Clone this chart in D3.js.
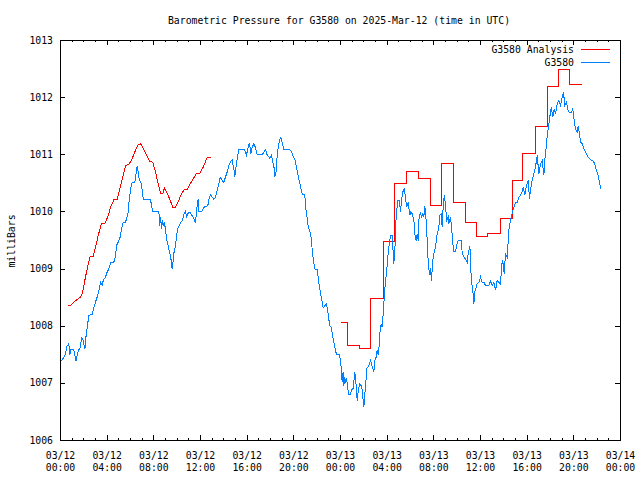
<!DOCTYPE html>
<html><head><meta charset="utf-8">
<script src="https://cdn.jsdelivr.net/npm/d3@7"></script>
<style>
body{margin:0;background:#fff}
svg{display:block}
text{font-family:"DejaVu Sans Mono","Liberation Mono",monospace;font-size:9.8px;fill:#000}
</style>
</head><body><svg id="c" width="640" height="480"></svg>
<script>
const titleText = "Barometric Pressure for G3580 on 2025-Mar-12 (time in UTC)";
const yLabelText = "milliBars";
const seriesNames = ["G3580 Analysis", "G3580"];
const startTime = "2025-03-12T00:00:00Z";
const endTime = "2025-03-14T00:00:00Z";
const yDomain = [1006, 1013];
const yTickValues = [1006, 1007, 1008, 1009, 1010, 1011, 1012, 1013];

// Observed pressure (hours since 2025-03-12 00:00 UTC, mb)
const obsHours = [0.09,0.29,0.43,0.57,0.71,0.80,0.86,1.06,1.14,1.23,1.34,1.43,1.57,1.71,1.80,1.91,2.00,2.09,2.20,2.31,2.43,2.71,2.86,3.00,3.14,3.29,3.43,3.57,3.66,3.86,4.00,4.14,4.29,4.57,4.71,4.80,4.94,5.09,5.23,5.37,5.57,5.71,5.80,5.91,6.06,6.14,6.37,6.46,6.57,6.66,6.71,6.86,6.94,7.06,7.14,7.71,7.86,7.94,8.43,8.51,8.57,8.66,8.71,8.80,8.89,9.00,9.09,9.23,9.34,9.46,9.57,9.66,9.74,9.86,9.94,10.09,10.23,10.43,10.57,10.71,10.80,10.91,11.09,11.29,11.43,11.57,11.71,11.80,11.86,12.09,12.29,12.49,12.63,12.71,12.86,13.00,13.14,13.29,13.43,13.57,13.69,13.86,14.00,14.14,14.29,14.43,14.57,14.71,14.86,14.94,15.09,15.20,15.29,15.71,15.86,15.94,16.09,16.20,16.31,16.43,16.57,16.71,16.86,17.29,17.43,17.57,17.71,17.86,17.94,18.09,18.20,18.31,18.37,18.49,18.57,18.66,18.77,18.89,19.00,19.14,19.63,19.80,19.91,20.09,20.20,20.31,20.43,20.54,20.66,20.77,20.94,21.00,21.11,21.20,21.29,21.43,21.51,21.60,21.71,21.80,22.00,22.14,22.29,22.43,22.51,22.66,22.77,22.86,23.00,23.06,23.20,23.29,23.43,23.51,23.66,23.91,
24.00,24.09,24.14,24.23,24.29,24.37,24.43,24.51,24.63,24.71,24.86,24.94,25.06,25.14,25.23,25.34,25.43,25.51,25.63,25.77,25.86,26.00,26.09,26.14,26.23,26.43,26.57,26.71,26.86,26.94,27.06,27.14,27.23,27.29,27.37,27.49,27.57,27.66,27.77,27.86,27.94,28.06,28.14,28.29,28.43,28.49,28.57,28.66,28.77,28.91,29.06,29.14,29.23,29.34,29.46,29.57,29.66,29.80,29.94,30.03,30.14,30.29,30.37,30.49,30.57,30.66,30.71,30.86,30.94,31.06,31.14,31.23,31.34,31.43,31.51,31.63,31.71,31.80,31.91,32.00,32.14,32.29,32.43,32.51,32.66,32.71,32.80,32.89,33.00,33.09,33.23,33.29,33.43,33.51,33.63,33.71,33.86,33.94,34.09,34.37,34.43,34.57,34.71,34.86,34.94,35.09,35.17,35.29,35.37,35.43,35.51,35.57,35.71,35.86,36.00,36.14,36.29,36.43,36.71,36.86,37.00,37.14,37.29,37.43,37.57,37.71,37.86,37.94,38.03,38.14,38.29,38.43,38.57,38.71,38.86,39.00,39.14,39.29,39.43,39.57,39.66,39.80,39.94,40.09,40.20,40.29,40.43,40.57,40.71,40.86,41.00,41.14,41.29,41.43,41.51,41.63,41.71,41.86,41.94,42.06,42.20,42.31,42.43,42.57,42.71,42.86,43.00,43.11,43.23,43.37,43.51,43.66,43.80,43.91,44.00,44.09,44.20,44.29,44.37,44.49,44.57,44.71,44.86,45.00,45.23,45.43,45.63,45.80,45.94,46.09,46.20,46.31];
const obsValues = [1007.39,1007.46,1007.52,1007.66,1007.69,1007.50,1007.59,1007.60,1007.59,1007.49,1007.39,1007.50,1007.59,1007.63,1007.80,1007.78,1007.69,1007.60,1007.85,1008.01,1008.19,1008.21,1008.33,1008.42,1008.51,1008.63,1008.77,1008.71,1008.80,1008.86,1008.95,1009.00,1009.11,1009.12,1009.21,1009.41,1009.47,1009.54,1009.70,1009.81,1009.82,1009.91,1010.00,1010.26,1010.45,1010.51,1010.52,1010.64,1010.80,1010.70,1010.61,1010.52,1010.49,1010.26,1010.22,1010.22,1010.05,1010.00,1010.00,1009.76,1009.91,1009.70,1009.85,1009.76,1009.82,1009.70,1009.53,1009.41,1009.30,1009.19,1009.00,1009.15,1009.31,1009.40,1009.59,1009.73,1009.79,1009.85,1009.95,1010.01,1009.91,1009.97,1010.00,1009.93,1009.88,1009.81,1010.11,1010.22,1010.00,1010.00,1010.08,1010.10,1010.11,1010.22,1010.30,1010.26,1010.22,1010.26,1010.38,1010.49,1010.61,1010.55,1010.52,1010.61,1010.70,1010.81,1010.88,1010.91,1010.75,1010.62,1010.87,1010.99,1011.10,1011.10,1011.05,1011.00,1011.13,1011.21,1011.02,1011.13,1011.19,1011.13,1011.00,1011.00,1011.05,1011.09,1011.00,1010.96,1010.93,1010.99,1010.87,1010.77,1010.61,1010.72,1010.99,1011.13,1011.25,1011.31,1011.22,1011.10,1011.10,1011.05,1010.99,1010.92,1010.81,1010.70,1010.58,1010.47,1010.35,1010.30,1010.30,1010.11,1009.94,1009.79,1009.70,1009.63,1009.50,1009.27,1009.12,1009.00,1008.99,1008.77,1008.57,1008.42,1008.32,1008.36,1008.39,1008.32,1008.13,1008.01,1007.98,1007.87,1007.73,1007.63,1007.50,1007.50,
1007.40,1007.20,1007.02,1007.20,1006.96,1007.11,1007.00,1007.10,1006.90,1006.81,1006.81,1006.90,1006.89,1007.02,1007.20,1006.96,1006.70,1006.85,1006.99,1006.96,1006.88,1006.58,1006.85,1006.86,1007.25,1007.31,1007.40,1007.30,1007.20,1007.40,1007.46,1007.58,1007.50,1007.60,1007.87,1008.04,1007.98,1008.22,1008.57,1008.80,1008.92,1009.21,1009.38,1009.59,1009.59,1009.38,1009.09,1009.33,1009.91,1010.20,1010.20,1010.00,1010.20,1010.35,1010.40,1010.26,1010.08,1010.17,1009.94,1010.00,1009.97,1009.85,1009.62,1009.50,1009.62,1009.50,1009.85,1010.00,1009.91,1009.97,1009.91,1010.10,1009.85,1009.50,1009.15,1008.89,1009.02,1008.80,1009.15,1009.27,1009.38,1009.62,1009.73,1009.94,1009.97,1009.73,1010.08,1010.29,1010.14,1009.85,1009.91,1009.79,1009.91,1009.76,1009.45,1009.30,1009.30,1009.41,1009.50,1009.50,1009.27,1009.21,1009.18,1009.12,1009.27,1009.41,1008.98,1008.68,1008.57,1008.39,1008.60,1008.63,1008.74,1008.77,1008.86,1008.77,1008.77,1008.71,1008.71,1008.79,1008.71,1008.77,1008.63,1008.80,1008.77,1008.74,1009.15,1009.09,1008.92,1009.27,1009.21,1009.68,1009.85,1009.97,1010.08,1010.17,1010.17,1010.26,1010.29,1010.35,1010.43,1010.29,1010.46,1010.55,1010.23,1010.40,1010.55,1010.67,1010.78,1010.99,1010.67,1010.84,1010.90,1010.64,1010.90,1011.13,1011.31,1011.54,1011.66,1011.83,1011.66,1011.80,1011.72,1011.89,1011.95,1011.86,1012.01,1012.10,1011.86,1011.92,1011.78,1011.73,1011.75,1011.80,1011.66,1011.51,1011.43,1011.40,1011.51,1011.37,1011.22,1011.20,1011.10,1011.05,1010.96,1010.91,1010.90,1010.84,1010.72,1010.64,1010.52,1010.40];

// Analysis, first run (hours, mb)
const analysisEarlyHours = [0.63,0.91,1.14,1.43,1.71,1.86,2.00,2.20,2.51,2.80,2.94,3.20,3.49,3.80,4.06,4.34,4.57,4.86,5.06,5.29,5.57,5.86,6.14,6.37,6.66,6.89,7.14,7.43,7.66,7.91,8.14,8.37,8.60,8.77,8.91,9.14,9.37,9.63,9.86,10.09,10.37,10.63,10.89,11.17,11.46,11.63,11.91,12.20,12.57,12.91];
const analysisEarlyValues = [1008.37,1008.37,1008.42,1008.47,1008.51,1008.57,1008.71,1008.92,1009.21,1009.22,1009.33,1009.56,1009.79,1009.80,1009.92,1010.11,1010.21,1010.22,1010.38,1010.58,1010.81,1010.83,1010.93,1011.05,1011.18,1011.19,1011.09,1010.97,1010.88,1010.87,1010.70,1010.49,1010.32,1010.32,1010.42,1010.33,1010.22,1010.08,1010.08,1010.18,1010.32,1010.39,1010.40,1010.51,1010.61,1010.67,1010.67,1010.77,1010.95,1010.95];
// Analysis, second run (hourly held values)
const analysisLateHours = [24.00,24.63,25.60,26.60,27.65,28.60,29.65,30.65,31.68,32.65,33.70,34.68,35.65,36.63,37.68,38.70,39.63,40.75,41.73,42.68,43.67,44.71];
const analysisLateValues = [1008.06,1007.67,1007.61,1008.48,1009.49,1010.49,1010.70,1010.59,1010.11,1010.84,1010.17,1009.81,1009.57,1009.62,1009.89,1010.55,1011.02,1011.50,1012.20,1012.49,1012.23,1012.23];

const colors = ["#ff0000", "#0080ff"];

const t0 = new Date(startTime).getTime();
const toDate = h => new Date(t0 + h * 3600e3);

const svg = d3.select("#c");
const L = 60, R = 620, T = 40, B = 440;
const x = d3.scaleUtc().domain([new Date(startTime), new Date(endTime)]).range([L, R]);
const y = d3.scaleLinear().domain(yDomain).range([B, T]);

// Frame
svg.append("rect").attr("x", L + 0.5).attr("y", T + 0.5).attr("width", R - L).attr("height", B - T)
  .attr("fill", "none").attr("stroke", "#000").attr("shape-rendering", "crispEdges");

function styleAxis(g) {
  g.select(".domain").remove();
  g.selectAll(".tick line").attr("stroke", "#000").attr("shape-rendering", "crispEdges");
  g.selectAll("text").attr("font-family", null).attr("font-size", null);
  g.attr("font-family", null).attr("font-size", null);
}

// Minor ticks (hourly)
svg.append("g").attr("transform", `translate(0,${B})`)
  .call(d3.axisBottom(x).ticks(d3.utcHour.every(1)).tickSize(-2).tickFormat(""))
  .call(styleAxis);
svg.append("g").attr("transform", `translate(0,${T})`)
  .call(d3.axisTop(x).ticks(d3.utcHour.every(1)).tickSize(-2).tickFormat(""))
  .call(styleAxis);

// Major x ticks
const fmtD = d3.utcFormat("%m/%d"), fmtH = d3.utcFormat("%H:%M");
const xb = svg.append("g").attr("transform", `translate(0,${B})`)
  .call(d3.axisBottom(x).ticks(d3.utcHour.every(4)).tickSize(-5).tickPadding(0))
  .call(styleAxis);
xb.selectAll(".tick text").each(function(d) {
  const t = d3.select(this).text(null).attr("dy", null).attr("y", null);
  t.append("tspan").attr("x", 0).attr("y", 18.5).text(fmtD(d));
  t.append("tspan").attr("x", 0).attr("y", 30.5).text(fmtH(d));
});
svg.append("g").attr("transform", `translate(0,${T})`)
  .call(d3.axisTop(x).ticks(d3.utcHour.every(4)).tickSize(-5).tickFormat(""))
  .call(styleAxis);

// Y axes
svg.append("g").attr("transform", `translate(${L},0)`)
  .call(d3.axisLeft(y).tickValues(yTickValues).tickSize(-5).tickPadding(7).tickFormat(d3.format("d")))
  .call(styleAxis);
svg.append("g").attr("transform", `translate(${R},0)`)
  .call(d3.axisRight(y).tickValues(yTickValues).tickSize(-5).tickFormat(""))
  .call(styleAxis);

// Title and y label
svg.append("text").attr("x", 339).attr("y", 23.5).attr("text-anchor", "middle").text(titleText);
svg.append("text").attr("transform", "translate(14.5,241) rotate(-90)").attr("text-anchor", "middle").text(yLabelText);

// Lines (aliased like the original bitmap plot)
const line = d3.line().x(d => x(toDate(d[0])) + 0.5).y(d => y(d[1]) + 0.5);
const obs = obsHours.map((h, i) => [h, obsValues[i]]);
const anEarly = analysisEarlyHours.map((h, i) => [h, analysisEarlyValues[i]]);
const anLate = analysisLateHours.map((h, i) => [h, analysisLateValues[i]]);

svg.append("path").attr("d", line(anEarly)).attr("fill", "none").attr("stroke", colors[0]).attr("stroke-width", 1).attr("shape-rendering", "crispEdges");
svg.append("path").attr("d", line.curve(d3.curveStepAfter)(anLate)).attr("fill", "none").attr("stroke", colors[0]).attr("stroke-width", 1).attr("shape-rendering", "crispEdges");
line.curve(d3.curveLinear);
svg.append("path").attr("d", line(obs)).attr("fill", "none").attr("stroke", colors[1]).attr("stroke-width", 1).attr("shape-rendering", "crispEdges");

// Legend
const leg = svg.append("g");
seriesNames.forEach((n, i) => {
  const ly = 49 + i * 13;
  leg.append("text").attr("x", 574).attr("y", ly + 3.5).attr("text-anchor", "end").text(n);
  leg.append("line").attr("x1", 581).attr("x2", 610).attr("y1", ly + 0.5).attr("y2", ly + 0.5)
    .attr("stroke", colors[i]).attr("stroke-width", 1).attr("shape-rendering", "crispEdges");
});
</script>
</body></html>
